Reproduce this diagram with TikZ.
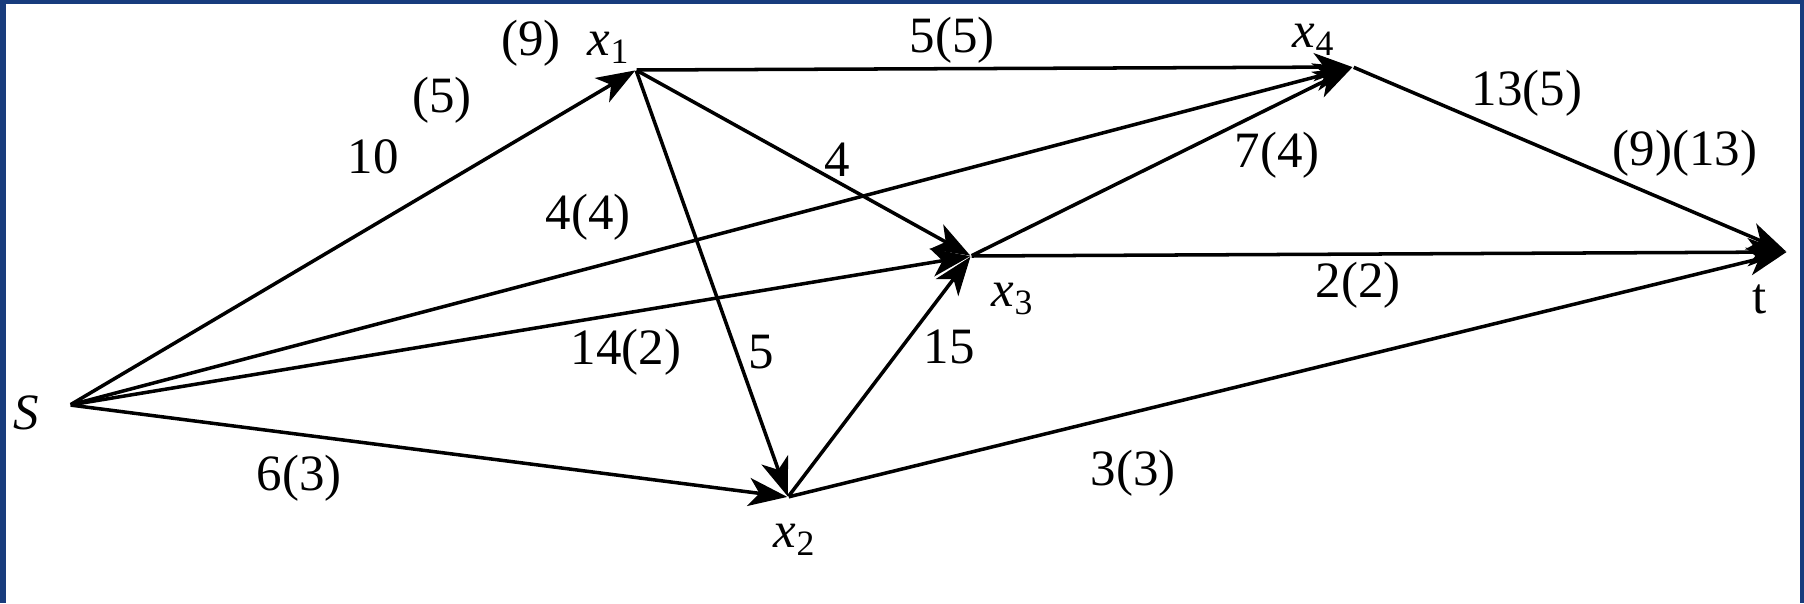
\documentclass[tikz,border=0pt]{standalone}
\usepackage{fontspec}
\setmainfont{Liberation Serif}
\definecolor{frameblue}{RGB}{24,60,125}
\usetikzlibrary{arrows.meta}

\begin{document}
\begin{tikzpicture}[
  every node/.style={font=\fontsize{14.5}{17}\selectfont},
  vtx/.style={inner sep=0pt, minimum size=0pt},
  flowlbl/.style={inner sep=1pt},
  arc/.style={-{Stealth[length=11pt, width=8pt, inset=3pt]}, line width=1pt, black}
]
  % frame
  \fill[frameblue] (0,0) rectangle (18.04,-6.03);
  \fill[white] (0.06,-0.04) rectangle (18.00,-6.03);
  \useasboundingbox (0,0) rectangle (18.04,-6.03);

  % vertices
  \node[vtx] (s)  at (0.70,-4.05) {};
  \node[vtx] (x1) at (6.36,-0.70) {};
  \node[vtx] (x2) at (7.88,-4.97) {};
  \node[vtx] (x3) at (9.71,-2.56) {};
  \node[vtx] (x4) at (13.53,-0.67) {};
  \node[vtx] (t)  at (17.87,-2.52) {};

  % vertex names
  \node (ns)  at (0.26,-4.13) {\textit{S}};
  \node (nx1) at (6.09,-0.48) {\textit{x}\textsubscript{1}};
  \node (nx2) at (7.95,-5.40) {\textit{x}\textsubscript{2}};
  \node (nx3) at (10.13,-2.99) {\textit{x}\textsubscript{3}};
  \node (nx4) at (13.14,-0.40) {\textit{x}\textsubscript{4}};
  \node (nt)  at (17.60,-2.99) {t};

  % arcs
  \draw[arc] (s) -- (x1);
  \draw[arc] (s) -- (x4);
  \draw[arc] (s) -- (x3);
  \draw[arc] (s) -- (x2);
  \draw[arc] (x1) -- (x4);
  \draw[arc] (x1) -- (x3);
  \draw[arc] (x1) -- (x2);
  \draw[arc] (x2) -- (x3);
  \draw[arc] (x3) -- (x4);
  \draw[arc] (x3) -- (t);
  \draw[arc] (x4) -- (t);
  \draw[arc] (x2) -- (t);

  % capacities and flows
  \node[flowlbl] (f9)    at (5.31,-0.43) {(9)};
  \node[flowlbl] (f5)    at (4.42,-1.00) {(5)};
  \node[flowlbl] (fsx1)  at (3.73,-1.57) {10};
  \node[flowlbl] (fx1x4) at (9.52,-0.40) {5(5)};
  \node[flowlbl] (fx1x3) at (8.37,-1.60) {4};
  \node[flowlbl] (fsx4)  at (5.88,-2.17) {4(4)};
  \node[flowlbl] (fx4t)  at (15.27,-0.93) {13(5)};
  \node[flowlbl] (fx3x4) at (12.77,-1.55) {7(4)};
  \node[flowlbl] (ft)    at (16.85,-1.53) {(9)(13)};
  \node[flowlbl] (fx3t)  at (13.58,-2.85) {2(2)};
  \node[flowlbl] (fsx3)  at (6.26,-3.52) {14(2)};
  \node[flowlbl] (fx1x2) at (7.61,-3.52) {5};
  \node[flowlbl] (fx2x3) at (9.49,-3.47) {15};
  \node[flowlbl] (fsx2)  at (2.99,-4.78) {6(3)};
  \node[flowlbl] (fx2t)  at (11.33,-4.73) {3(3)};
\end{tikzpicture}
\end{document}
